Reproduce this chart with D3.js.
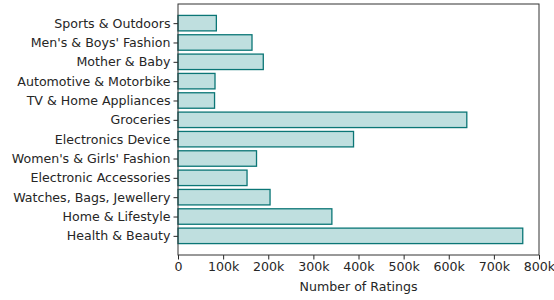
<!DOCTYPE html>
<html>
<head>
<meta charset="utf-8">
<script src="https://d3js.org/d3.v7.min.js"></script>
<style>
  body { margin: 0; background: #fff; }
  text { font-family: "DejaVu Sans", sans-serif; fill: #262626; }
</style>
</head>
<body>
<script>
var categories = ['Sports & Outdoors', "Men's & Boys' Fashion", 'Mother & Baby', 'Automotive & Motorbike',
    'TV & Home Appliances', 'Groceries', 'Electronics Device', "Women's & Girls' Fashion",
    'Electronic Accessories', 'Watches, Bags, Jewellery', 'Home & Lifestyle', 'Health & Beauty'];
var ratings = [85000, 164000, 189000, 82000, 81000, 640000, 389000, 174000, 153000, 204000, 341000, 764000];
var xTicks = [0, 100000, 200000, 300000, 400000, 500000, 600000, 700000, 800000];
var xTickLabels = ['0', '100k', '200k', '300k', '400k', '500k', '600k', '700k', '800k'];

var width = 554, height = 300;
var margin = {top: 4, right: 15, bottom: 45, left: 178};
var fs = 12.6;
var svg = d3.select('body').append('svg').attr('width', width).attr('height', height);

var x = d3.scaleLinear().domain([0, 800000]).range([margin.left, width - margin.right]);
// matplotlib style band: bar height 0.8, 5% margin
var y = d3.scaleLinear().domain([-0.99, 11.99]).range([margin.top, height - margin.bottom]);
var step = y(1) - y(0);

svg.selectAll('rect.bar').data(ratings).enter().append('rect')
    .attr('class', 'bar')
    .attr('x', x(0))
    .attr('y', function(d, i){ return y(i) - step * 0.4 })
    .attr('width', function(d){ return x(d) - x(0) })
    .attr('height', step * 0.8)
    .attr('fill', 'rgba(0,128,128,0.25)')
    .attr('stroke', '#0b7676')
    .attr('stroke-width', 1.3);

var xAxis = d3.axisBottom(x).tickValues(xTicks)
    .tickFormat(function(d, i){ return xTickLabels[i] }).tickSize(4.5).tickPadding(3);
var gx = svg.append('g').attr('transform', 'translate(0,' + (height - margin.bottom) + ')').call(xAxis);
gx.select('.domain').remove();
gx.selectAll('line').attr('stroke', '#262626');
gx.selectAll('text').attr('font-size', fs).style('fill', '#262626');

var yAxis = d3.axisLeft(y).tickValues(d3.range(categories.length))
    .tickFormat(function(d){ return categories[d] }).tickSize(4.5).tickPadding(3);
var gy = svg.append('g').attr('transform', 'translate(' + margin.left + ',0)').call(yAxis);
gy.select('.domain').remove();
gy.selectAll('line').attr('stroke', '#262626');
gy.selectAll('text').attr('font-size', fs).style('fill', '#262626');

// frame
svg.append('rect').attr('x', margin.left).attr('y', margin.top)
    .attr('width', width - margin.right - margin.left).attr('height', height - margin.bottom - margin.top)
    .attr('fill', 'none').attr('stroke', '#333').attr('stroke-width', 1);

svg.append('text').attr('x', (x(0) + x(800000)) / 2).attr('y', 291)
    .attr('text-anchor', 'middle').attr('font-size', fs).text('Number of Ratings');
</script>
</body>
</html>
